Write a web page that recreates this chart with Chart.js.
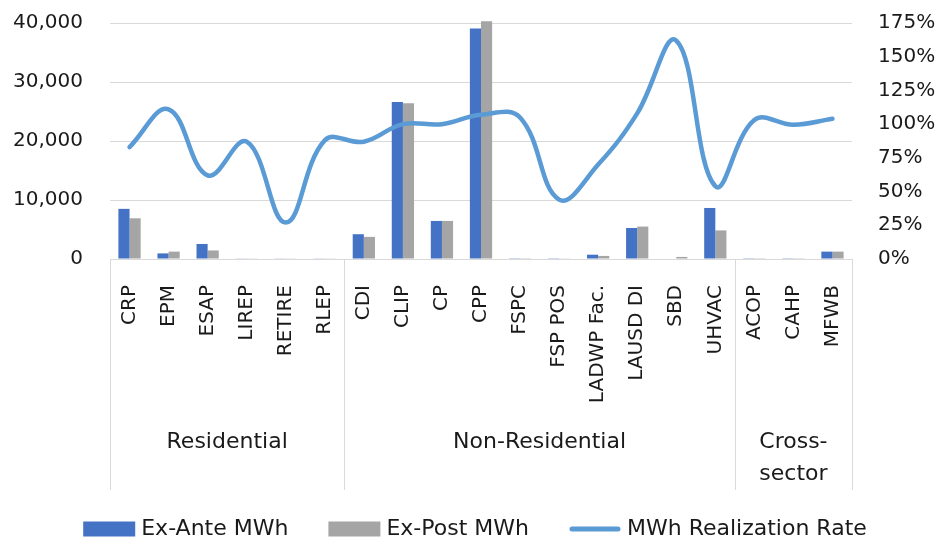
<!DOCTYPE html>
<html>
<head>
<meta charset="utf-8">
<script src="https://cdn.jsdelivr.net/npm/chart.js@4.4.0/dist/chart.umd.min.js"></script>
<style>
  html, body { margin: 0; padding: 0; background: #fff; }
  #wrap { width: 941px; height: 540px; position: relative; }
</style>
</head>
<body>
<div id="wrap"><canvas id="chart"></canvas></div>
<script>
const PROGRAMS = ['CRP', 'EPM', 'ESAP', 'LIREP', 'RETIRE', 'RLEP', 'CDI', 'CLIP', 'CP', 'CPP',
  'FSPC', 'FSP POS', 'LADWP Fac.', 'LAUSD DI', 'SBD', 'UHVAC', 'ACOP', 'CAHP', 'MFWB'];
const SECTORS = [['Residential'], ['Non-Residential'], ['Cross-', 'sector']];
const SECTOR_SIZES = [6, 10, 3];

const EX_ANTE_MWH = [8500, 950, 2550, 60, 60, 60, 4200, 26600, 6450, 39050,
  40, 40, 730, 5250, 80, 8650, 40, 40, 1250];
const EX_POST_MWH = [6900, 1250, 1450, 60, 60, 60, 3750, 26400, 6450, 40300,
  40, 60, 520, 5500, 350, 4850, 40, 40, 1250];
const REALIZATION_RATE = [83, 111, 62, 87, 27, 88, 87, 100, 100, 107,
  105, 44, 70, 108, 162, 54, 103, 99.5, 104];

const MWH_TICKS = [0, 10000, 20000, 30000, 40000];
const RATE_TICKS = [0, 25, 50, 75, 100, 125, 150, 175];

const BLUE = '#4472C4';
const GREY = '#A5A5A5';
const LINE_BLUE = '#5B9BD5';
const GRID = '#D9D9D9';
const TEXT = '#1a1a1a';
const FONT = '"DejaVu Sans", sans-serif';

Chart.defaults.font.family = FONT;
Chart.defaults.color = TEXT;

// second level of the category axis: sector separators + names
const sectorAxis = {
  id: 'sectorAxis',
  afterDraw(chart) {
    const { ctx, chartArea, scales: { x } } = chart;
    const top = chartArea.bottom;
    const edges = [x.getPixelForValue(-0.5)];
    let n = 0;
    SECTOR_SIZES.forEach(s => { n += s; edges.push(x.getPixelForValue(n - 0.5)); });

    ctx.save();
    ctx.strokeStyle = GRID;
    ctx.lineWidth = 1;
    edges.forEach(px => {
      const xx = Math.round(px) + 0.5;
      ctx.beginPath();
      ctx.moveTo(xx, top);
      ctx.lineTo(xx, top + 231);
      ctx.stroke();
    });

    ctx.font = '22px ' + FONT;
    ctx.fillStyle = TEXT;
    ctx.textAlign = 'center';
    ctx.textBaseline = 'middle';
    SECTORS.forEach((lines, i) => {
      const cx = (edges[i] + edges[i + 1]) / 2;
      lines.forEach((t, j) => ctx.fillText(t, cx, top + 183 + j * 32));
    });
    ctx.restore();
  }
};

// legend row under the axis
const bottomLegend = {
  id: 'bottomLegend',
  afterDraw(chart) {
    const { ctx, chartArea } = chart;
    const items = chart.data.datasets.map(ds => ({
      text: ds.label,
      color: ds.type === 'line' ? ds.borderColor : ds.backgroundColor,
      line: ds.type === 'line'
    }));
    const sw = 52, gap = 6, spacing = 40, y = 529;

    ctx.save();
    ctx.font = '22px ' + FONT;
    ctx.textBaseline = 'middle';
    const widths = items.map(it => sw + gap + ctx.measureText(it.text).width);
    const total = widths.reduce((a, b) => a + b, 0) + spacing * (items.length - 1);
    let x = (chartArea.left + chartArea.right) / 2 - total / 2 - 6;

    items.forEach((it, i) => {
      if (it.line) {
        ctx.strokeStyle = it.color;
        ctx.lineWidth = 5;
        ctx.lineCap = 'round';
        ctx.beginPath();
        ctx.moveTo(x + 3, y);
        ctx.lineTo(x + sw - 3, y);
        ctx.stroke();
      } else {
        ctx.fillStyle = it.color;
        ctx.fillRect(x, y - 7.5, sw, 15);
      }
      ctx.fillStyle = TEXT;
      ctx.fillText(it.text, x + sw + gap, y);
      x += widths[i] + spacing;
    });
    ctx.restore();
  }
};

new Chart(document.getElementById('chart'), {
  data: {
    labels: PROGRAMS,
    datasets: [
      {
        type: 'bar',
        label: 'Ex-Ante MWh',
        data: EX_ANTE_MWH,
        backgroundColor: BLUE,
        yAxisID: 'y',
        order: 1,
        clip: false,
        barPercentage: 1,
        categoryPercentage: 0.57
      },
      {
        type: 'bar',
        label: 'Ex-Post MWh',
        data: EX_POST_MWH,
        backgroundColor: GREY,
        yAxisID: 'y',
        order: 1,
        clip: false,
        barPercentage: 1,
        categoryPercentage: 0.57
      },
      {
        type: 'line',
        label: 'MWh Realization Rate',
        data: REALIZATION_RATE,
        borderColor: LINE_BLUE,
        borderWidth: 4.5,
        borderCapStyle: 'round',
        pointRadius: 0,
        tension: 0.4,
        yAxisID: 'y1',
        order: 0
      }
    ]
  },
  options: {
    responsive: true,
    maintainAspectRatio: false,
    animation: false,
    layout: { padding: { top: 23, left: 0, right: 0, bottom: 0 } },
    plugins: {
      legend: { display: false },
      tooltip: { enabled: false }
    },
    scales: {
      x: {
        grid: { display: false },
        border: { display: true, color: GRID, width: 1 },
        ticks: {
          autoSkip: false,
          maxRotation: 90,
          minRotation: 90,
          padding: 18,
          font: { size: 20 }
        },
        afterFit: scale => { scale.height = 281; }
      },
      y: {
        position: 'left',
        min: MWH_TICKS[0],
        max: MWH_TICKS[MWH_TICKS.length - 1],
        // invisible tick marks keep the labels off the plot without padding the top
        grid: { color: GRID, drawTicks: true, tickLength: 27, tickColor: 'rgba(0,0,0,0)' },
        border: { display: false },
        ticks: {
          stepSize: MWH_TICKS[1] - MWH_TICKS[0],
          padding: 0,
          font: { size: 20 },
          callback: v => v.toLocaleString('en-US')
        },
        afterFit: scale => { scale.width = 110; }
      },
      y1: {
        position: 'right',
        min: RATE_TICKS[0],
        max: RATE_TICKS[RATE_TICKS.length - 1],
        grid: { display: false, drawTicks: true, tickLength: 26 },
        border: { display: false },
        ticks: {
          stepSize: RATE_TICKS[1] - RATE_TICKS[0],
          padding: 0,
          font: { size: 20 },
          callback: v => v + '%'
        },
        afterFit: scale => { scale.width = 89; }
      }
    }
  },
  plugins: [sectorAxis, bottomLegend]
});
</script>
</body>
</html>
